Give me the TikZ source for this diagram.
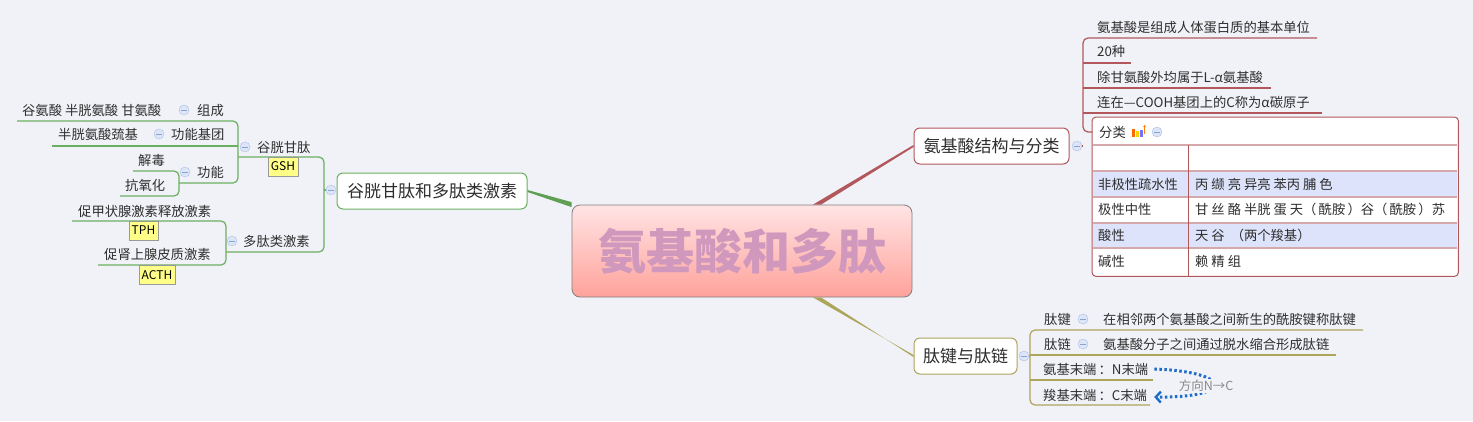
\documentclass[tikz,border=0pt]{standalone}
\usepackage{fontspec}
\newfontfamily\cjk{Noto Sans CJK SC}
\usetikzlibrary{arrows.meta,calc}
\definecolor{bg}{HTML}{F1F2F8}
\definecolor{txtgray}{HTML}{2E2E2E}
\definecolor{gcol}{HTML}{6AAF5F}
\definecolor{rcol}{HTML}{B2575C}
\definecolor{ocol}{HTML}{ACA55A}
\definecolor{rowline}{HTML}{D5A9AB}
\definecolor{rowblue}{HTML}{DCE3FA}
\definecolor{foldfill}{HTML}{DCE6F8}
\definecolor{folddraw}{HTML}{A9BFE3}
\definecolor{foldminus}{HTML}{8CA2CC}
\definecolor{tagyellow}{HTML}{FFFF88}
\definecolor{taggray}{HTML}{999999}
\definecolor{rtop}{HTML}{FFE4E4}
\definecolor{rbot}{HTML}{FFA29B}
\definecolor{titlecol}{HTML}{D098BD}
\definecolor{arrowblue}{HTML}{1D6CC9}
\definecolor{notegray}{HTML}{8A8A8A}
\tikzset{
	txt/.style={font=\cjk\fontsize{13.3}{15}\selectfont, text=txtgray, inner sep=0pt, anchor=west},
	branch/.style={font=\cjk\fontsize{17}{20}\selectfont, text=txtgray, fill=white, rounded corners=6pt, line width=1pt, minimum height=36pt, inner sep=0pt},
	fold/.style={circle, draw=folddraw, fill=foldfill, minimum size=10pt, inner sep=0pt,
			path picture={\draw[foldminus, line width=0.9pt] ($(path picture bounding box.center)+(-2.6pt,0pt)$) -- ($(path picture bounding box.center)+(2.6pt,0pt)$);}},
	tag/.style={font=\cjk\fontsize{12}{14}\selectfont, text=black, fill=tagyellow, draw=taggray, inner xsep=3pt, inner ysep=0pt, minimum height=19pt},
	gline/.style={draw=gcol, line width=1.2pt, rounded corners=5pt},
	rline/.style={draw=rcol, line width=1.2pt, rounded corners=5pt},
	oline/.style={draw=ocol, line width=1.2pt, rounded corners=5pt}
}
\begin{document}
\begin{tikzpicture}[x=1pt,y=-1pt]
	\fill[bg] (0,0) rectangle (1473,421);
	\useasboundingbox (0,0) rectangle (1473,421);

	\node[draw=gray, line width=0.8pt, rounded corners=8pt, top color=rtop, bottom color=rbot, minimum width=340, minimum height=92, font=\cjk\bfseries\fontsize{48}{54}\selectfont, text=titlecol] (root) at (742,251) {氨基酸和多肽};
	\node[branch, draw=gcol, minimum width=190] (gtitle) at (432,191) {谷胱甘肽和多肽类激素};
	\node[branch, draw=rcol, minimum width=155] (astruct) at (991.5,146) {氨基酸结构与分类};
	\node[branch, draw=ocol, minimum width=103] (pbond) at (965.5,356) {肽键与肽链};

	\coordinate (rootA) at ($(root.north west)!0.72!(root.north east)$);
	\coordinate (rootB) at ($(root.south west)!0.72!(root.south east)$);
	\fill[gcol!90!black] ($(gtitle.east)+(0,-1)$) -- ($(gtitle.east)+(0,1)$) -- ($(root.north west)+(0,2.5)$) -- ($(root.north west)+(0,-2.5)$) -- cycle;
	\fill[rcol] ($(astruct.west)+(0,-1)$) -- ($(astruct.west)+(0,1)$) -- ($(rootA)+(4,0)$) -- ($(rootA)+(-4,0)$) -- cycle;
	\fill[ocol] ($(pbond.west)+(0,-1)$) -- ($(pbond.west)+(0,1)$) -- ($(rootB)+(4,0)$) -- ($(rootB)+(-4,0)$) -- cycle;

	\coordinate (gshL) at (238,157);
	\coordinate (gshR) at (324,157);
	\coordinate (dtL) at (226,252);
	\coordinate (dtR) at (324,252);
	\coordinate (zcL) at (17,121);
	\coordinate (zcR) at (238,121);
	\coordinate (jtL) at (52,146);
	\coordinate (jtR) at (238,146);
	\coordinate (gnL) at (179,183);
	\coordinate (gnR) at (238,183);
	\coordinate (jdL) at (133,171);
	\coordinate (jdR) at (179,171);
	\coordinate (kyL) at (120,196);
	\coordinate (kyR) at (179,196);
	\coordinate (tphL) at (72,221);
	\coordinate (tphR) at (226,221);
	\coordinate (acL) at (98,265);
	\coordinate (acR) at (226,265);

	\draw[gline] (gshL) -- (gshR) -- (dtR) -- (dtL);
	\draw[gline] (zcL) -- (zcR) -- (gnR) -- (gnL);
	\draw[gline] (jtL) -- (jtR);
	\draw[gline] (jdL) -- (jdR) -- (kyR) -- (kyL);
	\draw[gline] (tphL) -- (tphR) -- (acR) -- (acL);

	\node[fold] (gfold) at (331,190) {};
	\draw[gline] (gfold.west) -- (gfold.west -| gshR);

	\node[txt] (zcsub) at (22,110) {谷氨酸 半胱氨酸 甘氨酸};
	\node[fold] (zcfold) at (184,110) {};
	\node[txt] (zc) at (197,110) {组成};
	\node[txt] (jtsub) at (58,134) {半胱氨酸巯基};
	\node[fold] (jtfold) at (159,134) {};
	\node[txt] (jt) at (171,134) {功能基团};
	\node[txt] (gsh) at (257,147) {谷胱甘肽};
	\node[fold] (gshfold) at (245,147) {};
	\node[tag] (gshtag) at (283,166.5) {GSH};
	\node[txt] (jd) at (138,160) {解毒};
	\node[txt] (gn) at (197,172) {功能};
	\node[fold] (gnfold) at (185,172) {};
	\node[txt] (ky) at (125,185) {抗氧化};
	\node[txt] (tph) at (78,211) {促甲状腺激素释放激素};
	\node[tag] (tphtag) at (143.5,230.5) {TPH};
	\node[txt] (dt) at (243,241) {多肽类激素};
	\node[fold] (dtfold) at (232,241) {};
	\node[txt] (ac) at (104,254) {促肾上腺皮质激素};
	\node[tag] (actag) at (157,275) {ACTH};

	\node[fill=white, rounded corners=4pt, minimum width=366, minimum height=159, inner sep=0pt, anchor=north west] (tbl) at (1092,117) {};
	\fill[rowblue] (1093,171) rectangle (1457,197);
	\fill[rowblue] (1093,223) rectangle (1457,248);
	\foreach \yy in {145,171,197,223,248}
		\draw[rowline, line width=1.5pt] (1093,\yy) -- (1457,\yy);
	\draw[rcol, line width=0.8pt] (1188,145) -- (1188,276);
	\draw[rcol, line width=1pt, rounded corners=4pt] (tbl.north west) rectangle (tbl.south east);

	\coordinate (u1L) at (1083,38);
	\coordinate (u1R) at (1317,38);
	\coordinate (u2L) at (1083,63);
	\coordinate (u2R) at (1131,63);
	\coordinate (u3L) at (1083,88);
	\coordinate (u3R) at (1271,88);
	\coordinate (u4L) at (1083,113);
	\coordinate (u4R) at (1322,113);
	\coordinate (avb) at (1083,132);
	\coordinate (tblin) at (tbl.west |- avb);
	\draw[rline] (u1R) -- (u1L) -- (avb) -- (tblin);
	\draw[rline] (u2L) -- (u2R);
	\draw[rline] (u3L) -- (u3R);
	\draw[rline] (u4L) -- (u4R);
	\node[fold] (afold) at (1077,146) {};
	\draw[rline] (afold.east) -- (afold.east -| avb);

	\node[txt] (a1) at (1097,27) {氨基酸是组成人体蛋白质的基本单位};
	\node[txt] (a2) at (1097,51) {20种};
	\node[txt] (a3) at (1097,77) {除甘氨酸外均属于L-α氨基酸};
	\node[txt] (a4) at (1097,102) {连在—COOH基团上的C称为α碳原子};
	\node[txt] (fenlei) at (1099,132) {分类};
	\fill[orange!80!red] (1132,137) rectangle (1135,129);
	\fill[yellow!70!orange] (1136,137) rectangle (1139,131);
	\fill[blue!55] (1140,137) rectangle (1143,130);
	\draw[orange, line width=0.8pt, -{Stealth[length=2pt,width=3pt]}] (1144.5,134) -- (1144.5,125);
	\node[fold] (flfold) at (1157,132) {};

	\node[txt] (r1) at (1098,184) {非极性疏水性};
	\node[txt] (v1) at (1195,184) {丙 缬 亮 异亮 苯丙 脯 色};
	\node[txt] (r2) at (1098,209) {极性中性};
	\node[txt] (v2) at (1195,209) {甘 丝 酪 半胱 蛋 天（\,酰胺\,）谷（\,酰胺\,）苏};
	\node[txt] (r3) at (1098,235) {酸性};
	\node[txt] (v3) at (1195,235) {天 谷 \ （两个羧基）};
	\node[txt] (r4) at (1098,261) {碱性};
	\node[txt] (v4) at (1195,261) {赖 精 组};

	\coordinate (b1L) at (1030,330);
	\coordinate (b1R) at (1363,330);
	\coordinate (b2L) at (1030,355);
	\coordinate (b2R) at (1336,355);
	\coordinate (b3L) at (1030,380);
	\coordinate (b3R) at (1153,380);
	\coordinate (b4L) at (1030,405);
	\coordinate (b4R) at (1150,405);
	\draw[oline] (b1R) -- (b1L) -- (b4L) -- (b4R);
	\draw[oline] (b2L) -- (b2R);
	\draw[oline] (b3L) -- (b3R);
	\node[fold] (pfold) at (1024,356) {};
	\draw[oline] (pfold.east) -- (pfold.east -| b1L);

	\node[txt] (tj) at (1044,319) {肽键};
	\node[fold] (tjfold) at (1083,319) {};
	\node[txt] (tjsub) at (1103,319) {在相邻两个氨基酸之间新生的酰胺键称肽键};
	\node[txt] (tl) at (1044,344) {肽链};
	\node[fold] (tlfold) at (1083,344) {};
	\node[txt] (tlsub) at (1103,344) {氨基酸分子之间通过脱水缩合形成肽链};
	\node[txt] (nend) at (1043,369) {氨基末端\,：N末端};
	\node[txt] (cend) at (1043,395) {羧基末端\,：C末端};

	\draw[arrowblue, line width=3pt, dash pattern=on 2.5pt off 2.5pt, -{Straight Barb[length=5pt,width=11pt,line width=2.4pt]}] ($(nend.east)+(6,0)$) .. controls (1234,372) and (1234,398) .. ($(cend.east)+(7,2)$);
	\node[font=\cjk\fontsize{12.5}{14}\selectfont, text=notegray, fill=bg, inner sep=1pt] (dir) at (1206,386) {方向N→C};
\end{tikzpicture}
\end{document}
